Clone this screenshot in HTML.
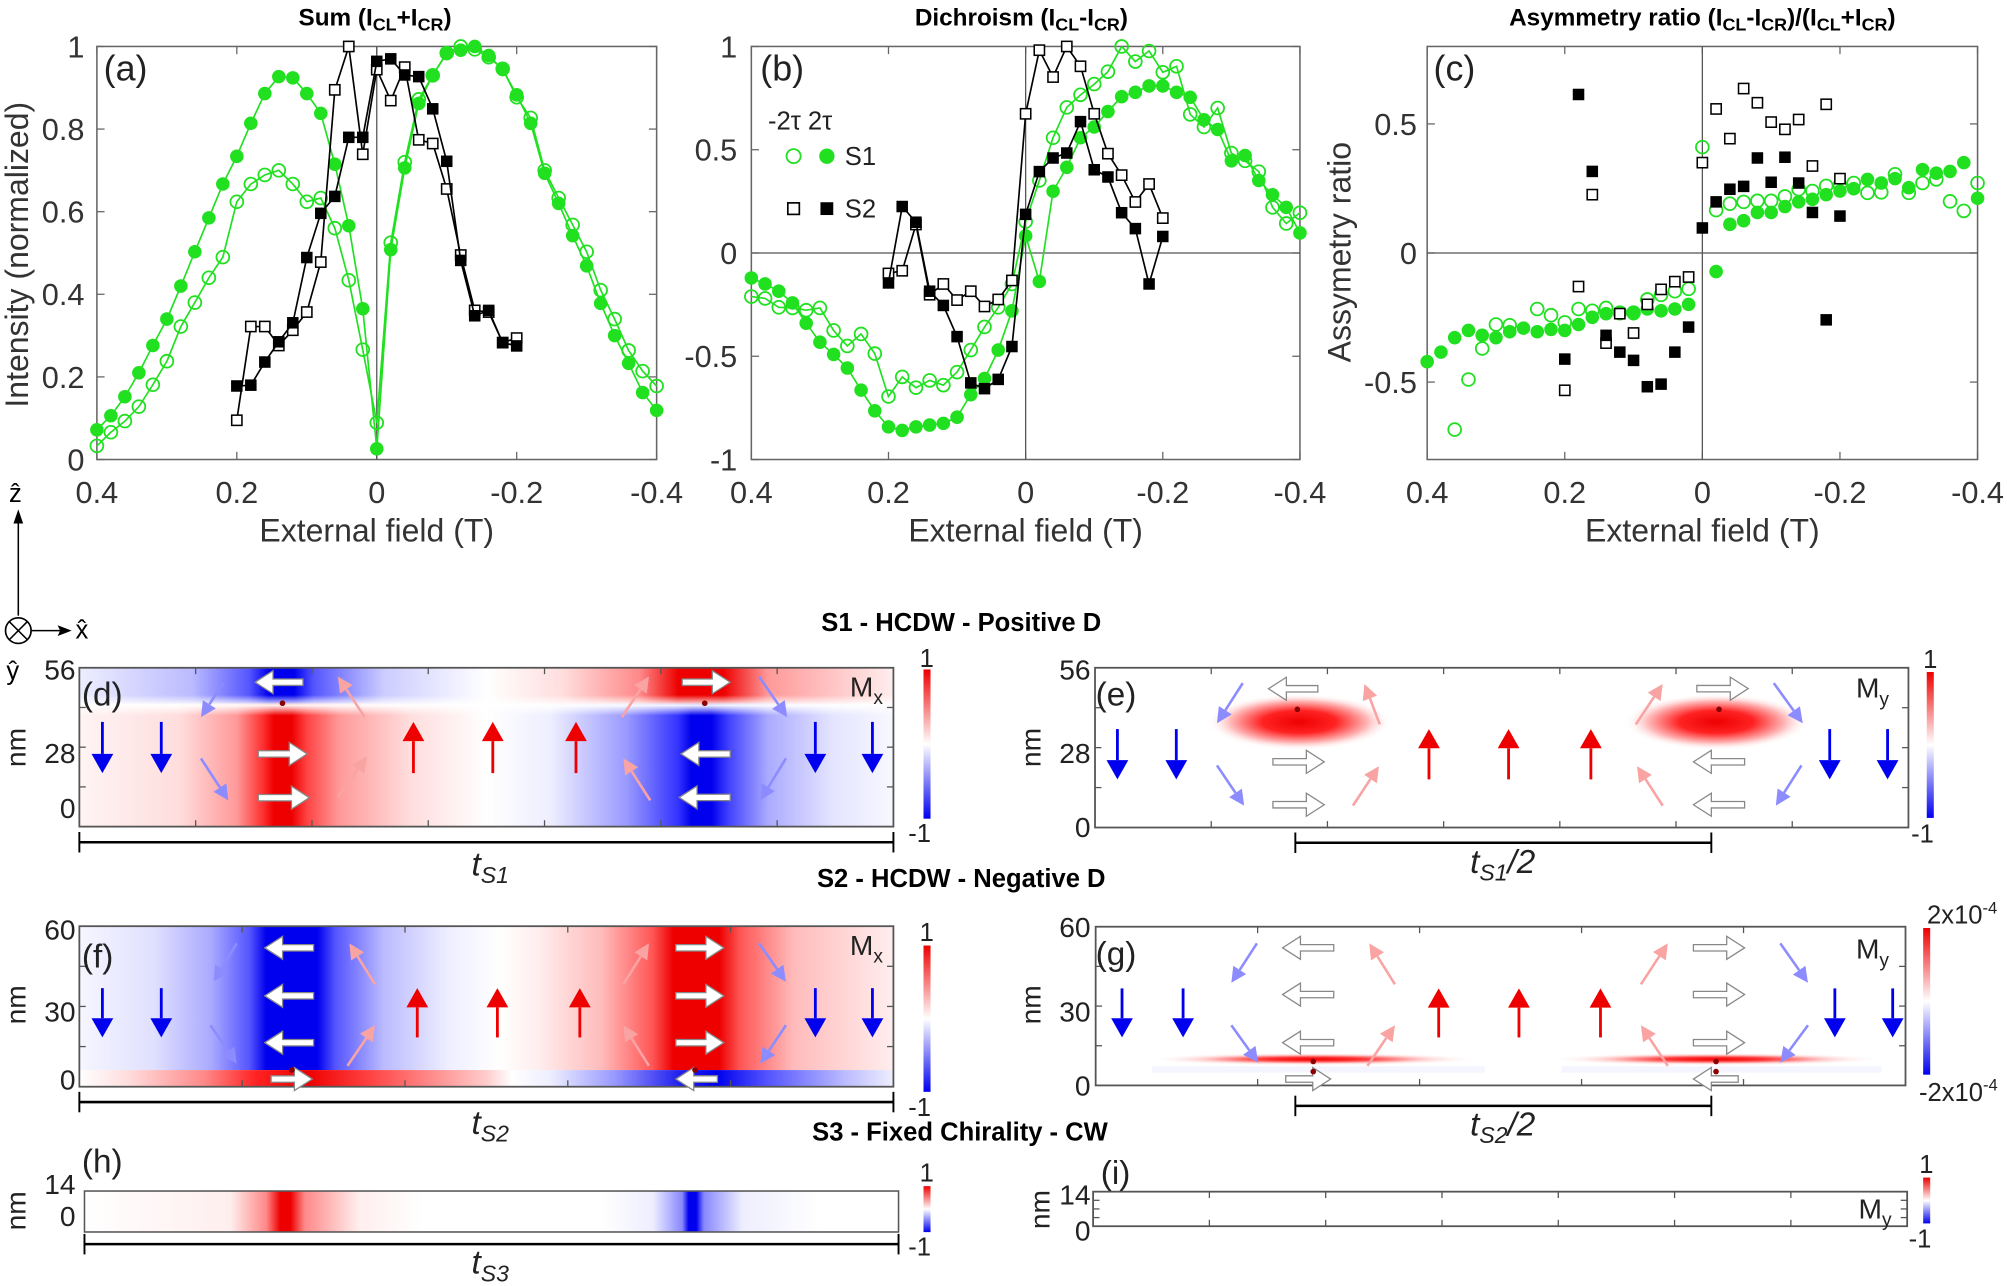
<!DOCTYPE html>
<html><head><meta charset="utf-8"><style>html,body{margin:0;padding:0;background:#fff;overflow:hidden}svg{display:block}</style></head>
<body><svg id="s" xmlns="http://www.w3.org/2000/svg" width="2007" height="1286" viewBox="0 0 1568 1004.7" preserveAspectRatio="none" font-family="Liberation Sans, DejaVu Sans, sans-serif"></svg>
<script>
var o='';
var G='#20e020', R='#ee0000', B='#0000ee', LB='#8c8cff', PK='#f9a3a3';
function t(x,y,s,a){o+='<text x="'+x+'" y="'+y+'" '+(a||'')+'>'+s+'</text>';}
function ln(x1,y1,x2,y2,c,w){o+='<line x1="'+x1+'" y1="'+y1+'" x2="'+x2+'" y2="'+y2+'" stroke="'+(c||'#000')+'" stroke-width="'+(w||1)+'"/>';}
function axes(X0,X1,Y0,Y1,ymin,ymax,yt,ylx,zeroH){
 var fx=function(f){return X0+(0.4-f)/0.8*(X1-X0)}, fy=function(v){return Y1-(v-ymin)/(ymax-ymin)*(Y1-Y0)};
 o+='<rect x="'+X0+'" y="'+Y0+'" width="'+(X1-X0)+'" height="'+(Y1-Y0)+'" fill="none" stroke="#666" stroke-width="1.2"/>';
 [0.4,0.2,0,-0.2,-0.4].forEach(function(f){var x=fx(f);ln(x,Y1,x,Y1-6,'#666');ln(x,Y0,x,Y0+6,'#666');
  t(x,393,f==0?'0':(f<0?'-':'')+Math.abs(f),'font-size="24" fill="#333" text-anchor="middle"');});
 yt.forEach(function(v){var y=fy(v);ln(X0,y,X0+6,y,'#666');ln(X1,y,X1-6,y,'#666');
  t(ylx,y+8.5,v==0?'0':(v<0?'-':'')+Math.abs(v),'font-size="24" fill="#333" text-anchor="end"');});
 ln(fx(0),Y0,fx(0),Y1,'#555',1);
 if(zeroH) ln(X0,fy(0),X1,fy(0),'#555',1);
 t((X0+X1)/2,423,'External field (T)','font-size="25" fill="#333" text-anchor="middle"');
 return [fx,fy];
}
function series(A,vals,start,col,type,line){
 var fx=A[0],fy=A[1],pts=[];
 vals.forEach(function(v,i){if(v!==null)pts.push([fx(start-0.02*i),fy(v)]);});
 if(line) o+='<polyline points="'+pts.map(function(p){return p[0].toFixed(1)+','+p[1].toFixed(1)}).join(' ')+'" fill="none" stroke="'+col+'" stroke-width="1.3"/>';
 pts.forEach(function(p){
  if(type=='fc')o+='<circle cx="'+p[0]+'" cy="'+p[1]+'" r="5.3" fill="'+col+'"/>';
  else if(type=='oc')o+='<circle cx="'+p[0]+'" cy="'+p[1]+'" r="5" fill="none" stroke="'+col+'" stroke-width="1.4"/>';
  else if(type=='fs')o+='<rect x="'+(p[0]-4.5)+'" y="'+(p[1]-4.5)+'" width="9" height="9" fill="#000"/>';
  else o+='<rect x="'+(p[0]-4)+'" y="'+(p[1]-4)+'" width="8" height="8" fill="#fff" stroke="#000" stroke-width="1.2"/>';
 });
}
var Ga_f=[.072,.106,.152,.21,.276,.34,.42,.503,.585,.667,.734,.814,.886,.927,.924,.886,.838,.715,.566,.365,.026,.508,.706,.862,.931,.984,.991,1,.978,.944,.883,.814,.693,.62,.542,.469,.378,.3,.233,.162,.119];
var Ga_o=[.033,.066,.093,.128,.181,.238,.322,.38,.44,.49,.624,.667,.689,.70,.667,.624,.633,.56,.434,.266,.089,.525,.72,.872,.93,.984,1,.993,.974,.946,.877,.827,.70,.633,.568,.503,.41,.34,.264,.214,.178];
var Ka_f=[.178,.18,.236,.285,.331,.489,.596,.637,.78,.78,.964,.97,.931,.927,.849,.722,.482,.348,.361,.283,.275];
var Ka_o=[.095,.322,.322,.276,.313,.357,.478,.895,1,.739,.944,.869,.95,.774,.765,.655,.495,.361,.357,.283,.294];
var Gb_f=[-.121,-.15,-.185,-.242,-.34,-.432,-.491,-.557,-.664,-.764,-.842,-.859,-.842,-.833,-.825,-.795,-.686,-.608,-.47,-.28,.083,-.138,.299,.415,.558,.61,.685,.757,.778,.809,.809,.778,.754,.645,.598,.446,.472,.351,.282,.221,.097];
var Gb_o=[-.211,-.22,-.263,-.266,-.277,-.266,-.375,-.45,-.392,-.487,-.695,-.6,-.652,-.617,-.64,-.577,-.47,-.358,-.263,-.15,.152,.351,.558,.705,.766,.818,.878,1,.927,.978,.875,.904,.671,.61,.702,.484,.446,.394,.221,.143,.195];
var Kb_f=[-.145,.225,.149,-.185,-.254,-.405,-.629,-.657,-.612,-.453,.187,.394,.46,.484,.636,.403,.368,.195,.118,-.15,.08];
var Kb_o=[-.099,-.086,.138,-.202,-.15,-.228,-.185,-.259,-.225,-.133,.674,.982,.852,1,.904,.674,.481,.377,.247,.334,.169];
var Gc_f=[-.421,-.384,-.328,-.3,-.319,-.328,-.305,-.291,-.305,-.296,-.3,-.277,-.249,-.235,-.235,-.235,-.217,-.224,-.217,-.199,null,-.072,.111,.125,.157,.157,.18,.198,.208,.226,.24,.249,.285,.271,.288,.253,.323,.309,.316,.35,.212];
var Gc_o=[null,null,-.684,-.49,-.37,-.277,-.28,null,-.217,-.241,-.269,-.217,-.224,-.213,-.231,-.231,-.18,-.162,-.148,-.139,.41,.166,.191,.198,.202,.202,.219,.247,.24,.26,.263,.271,.233,.235,.305,.233,.271,.285,.2,.163,.271];
var Kc_f=[-.411,.614,.316,-.319,-.384,-.416,-.518,-.508,-.384,-.287,.097,.198,.247,.258,.368,.274,.371,.271,.157,-.259,.143];
var Kc_o=[-.532,-.13,.226,-.349,-.235,-.31,-.199,-.141,-.111,-.093,.35,.558,.443,.637,.582,.507,.479,.517,.337,.576,.288];

var sub=function(s){return '<tspan font-size="14" dy="4">'+s+'</tspan><tspan dy="-4">';};
t(293,20,'Sum (I'+sub('CL')+'+I'+sub('CR')+')</tspan></tspan>','font-size="19" font-weight="bold" text-anchor="middle"');
t(798,20,'Dichroism (I'+sub('CL')+'-I'+sub('CR')+')</tspan></tspan>','font-size="19" font-weight="bold" text-anchor="middle"');
t(1330,20,'Asymmetry ratio (I'+sub('CL')+'-I'+sub('CR')+')/(I'+sub('CL')+'+I'+sub('CR')+')</tspan></tspan></tspan></tspan>','font-size="19" font-weight="bold" text-anchor="middle"');

var A=axes(75.7,513,36.3,359,0,1,[0,0.2,0.4,0.6,0.8,1],66,false);
series(A,Ga_o,0.4,G,'oc',1);series(A,Ga_f,0.4,G,'fc',1);series(A,Ka_o,0.2,'#000','os',1);series(A,Ka_f,0.2,'#000','fs',1);
t(81,63,'(a)','font-size="28" fill="#222"');
t(22,199,'Intensity (normalized)','font-size="25" fill="#333" text-anchor="middle" transform="rotate(-90 22 199)"');

var Bx=axes(587,1015.6,36.3,359,-1,1,[-1,-0.5,0,0.5,1],576,true);
series(Bx,Gb_o,0.4,G,'oc',1);series(Bx,Gb_f,0.4,G,'fc',1);series(Bx,Kb_o,0.2,'#000','os',1);series(Bx,Kb_f,0.2,'#000','fs',1);
t(594,63,'(b)','font-size="28" fill="#222"');
t(600,101,'-2τ  2τ','font-size="20" fill="#222"');
o+='<circle cx="620" cy="122" r="5.5" fill="none" stroke="'+G+'" stroke-width="1.4"/><circle cx="646" cy="122" r="6" fill="'+G+'"/>';
t(660,129,'S1','font-size="20" fill="#222"');
o+='<rect x="615.5" y="158.5" width="9" height="9" fill="#fff" stroke="#000" stroke-width="1.3"/><rect x="641" y="158" width="10" height="10" fill="#000"/>';
t(660,170,'S2','font-size="20" fill="#222"');

var C=axes(1115,1545,36.3,359,-0.8,0.8,[-0.5,0,0.5],1107,true);
series(C,Gc_o,0.4,G,'oc',0);series(C,Gc_f,0.4,G,'fc',0);series(C,Kc_o,0.2,'#000','os',0);series(C,Kc_f,0.2,'#000','fs',0);
t(1120,63,'(c)','font-size="28" fill="#222"');
t(1055,197,'Assymetry ratio','font-size="25" fill="#333" text-anchor="middle" transform="rotate(-90 1055 197)"');

t(7,392,'ẑ','font-size="20"');
ln(14.3,405,14.3,481,'#000',1.2);o+='<polygon points="14.3,398 10.5,409 18.1,409" fill="#000"/>';
o+='<circle cx="14.3" cy="492.7" r="10" fill="none" stroke="#000" stroke-width="1.3"/>';
ln(7.2,485.6,21.4,499.8,'#000',1.2);ln(21.4,485.6,7.2,499.8,'#000',1.2);
ln(24.3,492.7,50,492.7,'#000',1.2);o+='<polygon points="56,492.7 45,488.5 47,492.7 45,496.9" fill="#000"/>';
t(59,499,'x̂','font-size="20"');t(5,531,'ŷ','font-size="20"');

t(751,493,'S1 - HCDW - Positive D','font-size="20" font-weight="bold" text-anchor="middle"');
t(751,693,'S2 - HCDW - Negative D','font-size="20" font-weight="bold" text-anchor="middle"');
t(750,891,'S3 - Fixed Chirality - CW','font-size="20" font-weight="bold" text-anchor="middle"');

var defs='';
function hg(id,x0,x1,stops){defs+='<linearGradient id="'+id+'" gradientUnits="userSpaceOnUse" x1="'+x0+'" y1="0" x2="'+x1+'" y2="0">'+stops.map(function(s){return '<stop offset="'+((s[0]-x0)/(x1-x0)).toFixed(4)+'" stop-color="'+s[1]+'"/>'}).join('')+'</linearGradient>';}
defs+='<linearGradient id="cb" x1="0" y1="0" x2="0" y2="1"><stop offset="0" stop-color="#e00"/><stop offset="0.5" stop-color="#fff"/><stop offset="1" stop-color="#00e"/></linearGradient>';
defs+='<linearGradient id="wfade" x1="0" y1="0" x2="0" y2="1"><stop offset="0" stop-color="#fff" stop-opacity="0"/><stop offset="0.5" stop-color="#fff" stop-opacity="0.95"/><stop offset="1" stop-color="#fff" stop-opacity="0"/></linearGradient>';
defs+='<radialGradient id="blob"><stop offset="0" stop-color="#e00"/><stop offset="0.4" stop-color="#f22"/><stop offset="0.75" stop-color="#fbb"/><stop offset="1" stop-color="#fff" stop-opacity="0"/></radialGradient>';
defs+='<radialGradient id="band"><stop offset="0" stop-color="#e00"/><stop offset="0.3" stop-color="#f33"/><stop offset="0.65" stop-color="#fcc"/><stop offset="1" stop-color="#fff" stop-opacity="0"/></radialGradient>';
hg('dlow',62,698,[[62,'#fff4f4'],[140,'#fdd'],[185,'#f99'],[205,'#f33'],[214,'#e00'],[228,'#e00'],[240,'#f44'],[265,'#f99'],[320,'#fdd'],[380,'#fff'],[430,'#eef'],[490,'#99f'],[530,'#33f'],[540,'#00e'],[556,'#00e'],[570,'#44f'],[600,'#aaf'],[650,'#e4e4ff'],[698,'#f8f8ff']]);
hg('dtop',62,698,[[62,'#eef'],[150,'#bbf'],[195,'#55f'],[210,'#00e'],[230,'#00e'],[245,'#55f'],[300,'#ccf'],[380,'#fff'],[440,'#fdd'],[500,'#f88'],[530,'#e00'],[565,'#e00'],[600,'#f99'],[698,'#fee']]);
hg('fmain',62,698,[[62,'#f6f6ff'],[120,'#e0e0ff'],[165,'#aaf'],[195,'#55f'],[208,'#00e'],[248,'#00e'],[262,'#55f'],[300,'#bbf'],[350,'#eef'],[390,'#fff'],[420,'#fee'],[470,'#fbb'],[510,'#f55'],[526,'#e00'],[562,'#e00'],[578,'#f55'],[620,'#fbb'],[698,'#fee']]);
hg('fbot',62,698,[[62,'#fff'],[100,'#fdd'],[160,'#f88'],[200,'#f22'],[240,'#e00'],[290,'#f44'],[380,'#fcc'],[400,'#fff'],[430,'#eef'],[480,'#99f'],[530,'#22e'],[560,'#00e'],[600,'#55f'],[660,'#bbf'],[698,'#eef']]);
hg('hg',66,702,[[66,'#fff'],[180,'#fee'],[208,'#f88'],[219,'#e00'],[227,'#e00'],[238,'#f88'],[280,'#fee'],[330,'#fff'],[470,'#fff'],[510,'#eef'],[533,'#88f'],[538,'#00e'],[544,'#00e'],[550,'#88f'],[580,'#eef'],[640,'#fff']]);
o+='<defs>'+defs+'</defs>';

function box(x0,y0,x1,y1,nx){
 o+='<rect x="'+x0+'" y="'+y0+'" width="'+(x1-x0)+'" height="'+(y1-y0)+'" fill="none" stroke="#555" stroke-width="1.4"/>';
 for(var i=1;i<nx;i++){var x=x0+(x1-x0)*i/nx;ln(x,y0,x,y0+5,'#555');ln(x,y1,x,y1-5,'#555');}
 for(var j=1;j<4;j++){var y=y0+(y1-y0)*j/4;ln(x0,y,x0+5,y,'#555');ln(x1,y,x1-5,y,'#555');}
}
o+='<rect x="62" y="521.7" width="636" height="28" fill="url(#dtop)"/><rect x="62" y="549.7" width="636" height="96.1" fill="url(#dlow)"/><rect x="62" y="543" width="636" height="16" fill="url(#wfade)"/>';
o+='<rect x="62" y="723.6" width="636" height="112.4" fill="url(#fmain)"/><rect x="62" y="836" width="636" height="13" fill="url(#fbot)"/>';
o+='<rect x="66" y="930.5" width="636" height="32" fill="url(#hg)"/>';
o+='<ellipse cx="1015" cy="564" rx="72" ry="22" fill="url(#blob)"/><ellipse cx="1341" cy="564" rx="72" ry="22" fill="url(#blob)"/>';
o+='<ellipse cx="1026" cy="827.5" rx="130" ry="5" fill="url(#band)"/><ellipse cx="1340.7" cy="827.5" rx="130" ry="5" fill="url(#band)"/>';
o+='<rect x="900" y="833" width="260" height="5" fill="#eef" opacity="0.6"/><rect x="1220" y="833" width="250" height="5" fill="#eef" opacity="0.6"/>';
box(62,521.7,698,645.8,7);box(62,723.6,698,849,5);o+='<rect x="66" y="930.5" width="636" height="32" fill="none" stroke="#555" stroke-width="1.2"/>';
box(855.5,521.7,1491,646.5,7);box(856,724,1488.7,848,5);box(854,931,1490,958,7);

function arr(x1,y1,x2,y2,col,w,hl,hw){
 var dx=x2-x1,dy=y2-y1,L=Math.sqrt(dx*dx+dy*dy),ux=dx/L,uy=dy/L,bx=x2-ux*hl,by=y2-uy*hl;
 ln(x1,y1,bx,by,col,w);
 o+='<polygon points="'+x2+','+y2+' '+(bx-uy*hw)+','+(by+ux*hw)+' '+(bx+uy*hw)+','+(by-ux*hw)+'" fill="'+col+'"/>';
}
function warr(x1,y,x2){
 var d=x2>x1?1:-1,hl=14,hw=9,bx=x2-d*hl;
 o+='<polygon points="'+x1+','+(y-2.5)+' '+bx+','+(y-2.5)+' '+bx+','+(y-hw)+' '+x2+','+y+' '+bx+','+(y+hw)+' '+bx+','+(y+2.5)+' '+x1+','+(y+2.5)+'" fill="#fff" stroke="#888" stroke-width="1"/>';
}
function ups(xs,ytop,ybot){xs.forEach(function(x){arr(x,ybot,x,ytop,R,2.2,15,8.5);});}
function downs(xs,ytop,ybot){xs.forEach(function(x){arr(x,ytop,x,ybot,B,2.2,15,8.5);});}
function dot(x,y){o+='<circle cx="'+x+'" cy="'+y+'" r="2.2" fill="#8b0000"/>';}
downs([80,126,637,681.6],564,604);ups([323,385,450],564,604);
warr(236.7,533,199.3);warr(533,533,570.5);warr(201.8,589,240);warr(201.8,623.2,241.7);warr(570.5,589,532);warr(570.5,623,530.6);
arr(174.4,533.7,157,560.3,LB,2,12,6);arr(593,528.6,615,560.3,LB,2,12,6);arr(157,592.5,178.4,625.3,LB,2,12,6);arr(614,592.5,594,625.3,LB,2,12,6);
arr(285,560.3,264,528.6,PK,2,12,6);arr(485.8,560.3,507,528.6,PK,2,12,6);arr(264,623,286.5,591,PK,2,12,6);arr(508,625.3,487,592.5,PK,2,12,6);
dot(220.7,549.4);dot(550.6,549.4);
downs([80,126,637,681.6],772,810.5);ups([326,388.6,453],772,810.5);
[740.5,778,814.6].forEach(function(y){warr(245,y,206.8);warr(528,y,565.5);});
warr(211.8,843,244);warr(560.5,843,528);
arr(185,737,167,766.8,LB,2,12,6);arr(164.4,801,185,831,LB,2,12,6);arr(593,737,614,767,LB,2,12,6);arr(614,801,594,831,LB,2,12,6);
arr(293,769,273,737,PK,2,12,6);arr(271.5,832.7,293,801,PK,2,12,6);arr(487,769,507,737,PK,2,12,6);arr(507,832.7,487,801,PK,2,12,6);
dot(228,836);dot(543,836);
downs([873,919,1429.5,1474.7],569.6,608.9);ups([1116.4,1178.6,1242.9],569.6,608.9);
warr(1029.6,538.1,991);warr(994.5,595.2,1034.6);warr(994.5,628.7,1034.6);
warr(1325.7,538,1365.8);warr(1363,595.2,1323);warr(1363,628.7,1323);
arr(970.9,533.7,950.8,565,LB,2,12,6);arr(950.8,598,972,629.4,LB,2,12,6);arr(1385.8,533.7,1408.4,565,LB,2,12,6);arr(1407.4,598,1387.4,629.4,LB,2,12,6);
arr(1078,566,1066,534.4,PK,2,12,6);arr(1057,629.4,1077.3,598.6,PK,2,12,6);arr(1278,566,1299,534.4,PK,2,12,6);arr(1299,629.4,1279,598.6,PK,2,12,6);
dot(1013.6,554.2);dot(1343,554.2);
downs([876.6,924.3,1433.5,1478.7],772.2,810.5);ups([1124,1186.7,1250.4],772.2,810.5);
[740.5,777,814.6].forEach(function(y){warr(1042,y,1002);warr(1323,y,1363);});
warr(1004.5,843,1039.6);warr(1358,843,1323);
arr(982,737,962,767.8,LB,2,12,6);arr(962,801,983,830.3,LB,2,12,6);arr(1390.9,737,1412.5,767.8,LB,2,12,6);arr(1412.5,801,1390.9,830.3,LB,2,12,6);
arr(1089.8,769,1069.8,737,PK,2,12,6);arr(1068.3,832.7,1089.8,801,PK,2,12,6);arr(1282,769,1303,737,PK,2,12,6);arr(1303,832.7,1282,801,PK,2,12,6);
dot(1026,829.3);dot(1026,837.2);dot(1340.7,829.3);dot(1340.7,837.2);

var PL='font-size="26" fill="#222"';
t(64,551,'(d)',PL);t(64,756,'(f)',PL);t(64,916,'(h)',PL);t(856,551,'(e)',PL);t(856,754,'(g)',PL);t(860,925,'(i)',PL);
function M(x,y,s){t(x,y,'M<tspan font-size="15" dy="6">'+s+'</tspan>','font-size="22" fill="#222"');}
M(664,544,'x');M(664,746,'x');M(1450,545,'y');M(1450,749,'y');M(1452,952,'y');
var YL='font-size="22" fill="#222" text-anchor="end"';
t(59,531,'56',YL);t(59,596,'28',YL);t(59,639,'0',YL);
t(852,531,'56',YL);t(852,596,'28',YL);t(852,654,'0',YL);
t(59,734,'60',YL);t(59,798,'30',YL);t(59,851,'0',YL);
t(852,732,'60',YL);t(852,798,'30',YL);t(852,856,'0',YL);
t(59,933,'14',YL);t(59,958,'0',YL);t(852,941,'14',YL);t(852,969,'0',YL);
var NM='font-size="22" fill="#222" text-anchor="middle"';
[[20,584],[20,785],[20,946]].forEach(function(p){t(p[0],p[1],'nm',NM+' transform="rotate(-90 '+p[0]+' '+p[1]+')"');});
[[813,584],[813,785],[820,945]].forEach(function(p){t(p[0],p[1],'nm',NM+' transform="rotate(-90 '+p[0]+' '+p[1]+')"');});
function cbar(x,y0,y1,top,bot,tx,ty,bx,by){o+='<rect x="'+x+'" y="'+y0+'" width="5.5" height="'+(y1-y0)+'" fill="url(#cb)"/>';
 t(tx,ty,top,'font-size="20" fill="#222" text-anchor="middle"');t(bx,by,bot,'font-size="20" fill="#222" text-anchor="middle"');}
cbar(721.5,523,639.6,'1','-1',724,521,718.5,658);
cbar(721.5,738.7,853,'1','-1',724,735,718.5,872);
cbar(721.5,926.7,962.6,'1','-1',724,923,718.5,981);
cbar(1505.3,525,639,'1','-1',1508,521.7,1502,658.4);
cbar(1502.5,725,839.6,'2x10<tspan font-size="13" dy="-8">-4</tspan>','-2x10<tspan font-size="13" dy="-8">-4</tspan>',1533,721.6,1530,860);
cbar(1502.5,920,955.8,'1','-1',1505,916.5,1500,974.6);
function br(x0,x1,y,lab,lx,ly){ln(x0,y,x1,y,'#000',2);ln(x0,y-8,x0,y+8,'#000',1.5);ln(x1,y-8,x1,y+8,'#000',1.5);
 t(lx,ly,lab,'font-size="26" font-style="italic" fill="#222" text-anchor="middle"');}
var ts=function(n){return 't<tspan font-size="18" dy="6">S'+n+'</tspan>';};
br(62,698,658,ts(1),383,684);br(62,698,861,ts(2),383,886);br(66,702,972,ts(3),383,995);
br(1012,1337,658.4,ts(1)+'<tspan dy="-6">/2</tspan>',1174,682);br(1012,1337,864,ts(2)+'<tspan dy="-6">/2</tspan>',1174,887);

document.getElementById('s').innerHTML=o;
</script>
</body></html>
